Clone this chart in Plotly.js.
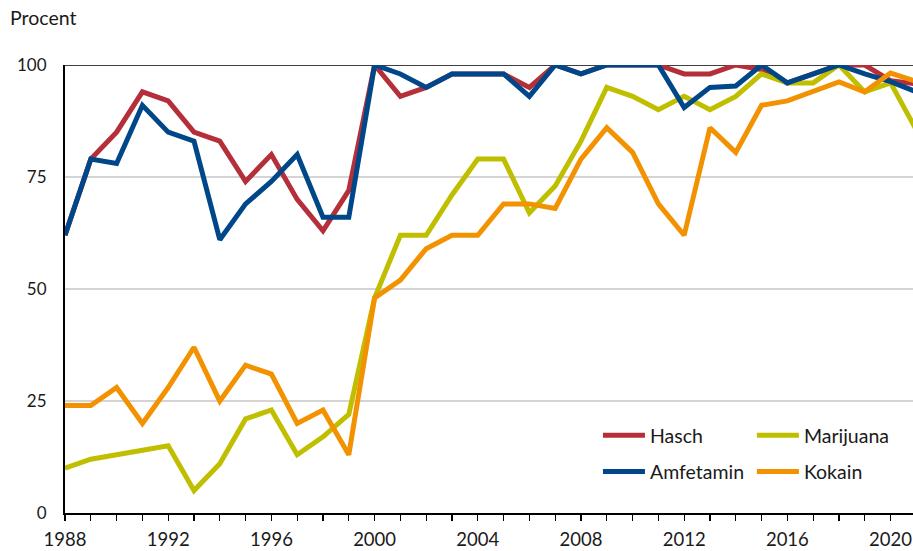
<!DOCTYPE html>
<html>
<head>
<meta charset="utf-8">
<script src="https://cdn.plot.ly/plotly-3.0.1.min.js"></script>
<style>
html, body { margin: 0; padding: 0; background: #fff; }
#chart { width: 913px; height: 551px; }
</style>
</head>
<body>
<div id="chart"></div>
<script>
const years = [1988,1989,1990,1991,1992,1993,1994,1995,1996,1997,1998,1999,2000,2001,2002,2003,2004,2005,2006,2007,2008,2009,2010,2011,2012,2013,2014,2015,2016,2017,2018,2019,2020,2021];
const hasch = [62,79,85,94,92,85,83,74,80,70,63,72,100,93,95,98,98,98,95,100,98,100,100,100,98,98,100,99,96,98,100,100,96.5,95.8];
const marijuana = [10,12,13,14,15,5,11,21,23,13,17,22,48,62,62,71,79,79,67,73,83,95,93,90,93,90,93,98,96,96,100,94,96,85.5];
const amfetamin = [62,79,78,91,85,83,61,69,74,80,66,66,100,98,95,98,98,98,93,100,98,100,100,100,90.5,95,95.3,100,96,98,100,98,96.3,94];
const kokain = [24,24,28,20,28,37,25,33,31,20,23,13,48,52,59,62,62,69,69,68,79,86,80.5,69,62,86,80.5,91,92,94.2,96.2,94,98.2,96.3];
const yTicks = [0,25,50,75,100];
const xTicks = [1988,1992,1996,2000,2004,2008,2012,2016,2020];

const FONT = 'Lato, "Open Sans", sans-serif';
const W = 5;
const traces = [
  {name:'Hasch', y:hasch, color:'#B52F3A', legend:'legend', group:'a'},
  {name:'Marijuana', y:marijuana, color:'#BFBF00', legend:'legend2', group:'c'},
  {name:'Amfetamin', y:amfetamin, color:'#00478A', legend:'legend', group:'b'},
  {name:'Kokain', y:kokain, color:'#F39200', legend:'legend2', group:'d'}
].map(t => ({
  type:'scatter', mode:'lines', x:years, y:t.y, name:t.name,
  line:{color:t.color, width:W}, legend:t.legend, legendgroup:t.group,
  hoverinfo:'skip', cliponaxis:true
}));

const legendCommon = {
  orientation:'v', bgcolor:'rgba(0,0,0,0)', borderwidth:0,
  font:{family:FONT, size:19.5, color:'#1a1a1a'},
  itemwidth:42, tracegroupgap:8, traceorder:'grouped',
  xanchor:'left', yanchor:'top', itemclick:false, itemdoubleclick:false
};

const layout = {
  width:913, height:551,
  margin:{l:65, r:0, t:65, b:38, pad:0},
  paper_bgcolor:'#fff', plot_bgcolor:'#fff',
  font:{family:FONT, size:18.5, color:'#1a1a1a'},
  showlegend:true,
  legend:Object.assign({}, legendCommon, {x:0.6285, y:0.2165}),
  legend2:Object.assign({}, legendCommon, {x:0.81, y:0.2165}),
  xaxis:{
    range:[1988, 2020.87], showgrid:false, zeroline:false,
    showline:true, linecolor:'#000', linewidth:2,
    ticks:'outside', ticklen:6, tickwidth:1.3, tickcolor:'#000',
    tickvals:years, ticktext:years.map(y => xTicks.includes(y) ? String(y) : ''),
    ticklabelstandoff:3,
    tickfont:{family:FONT, size:18.5, color:'#1a1a1a'}, fixedrange:true
  },
  yaxis:{
    range:[0,100], tickvals:yTicks, ticktext:yTicks.map(String),
    showgrid:true, gridcolor:'#d4d4d4', gridwidth:1.3,
    zeroline:false, showline:true, linecolor:'#000', linewidth:2,
    ticks:'', ticklabelstandoff:13,
    tickfont:{family:FONT, size:17, color:'#1a1a1a'}, fixedrange:true
  },
  shapes:[{type:'line', xref:'paper', yref:'y', x0:0, x1:1, y0:100, y1:100,
    line:{color:'#000', width:1.5}, layer:'below'}],
  annotations:[{text:'Procent', xref:'paper', yref:'paper', x:-0.067, y:1.105,
    xanchor:'left', yanchor:'middle', showarrow:false,
    font:{family:FONT, size:19.5, color:'#1a1a1a'}}]
};

Plotly.newPlot('chart', traces, layout, {displayModeBar:false, staticPlot:true});
</script>
</body>
</html>
